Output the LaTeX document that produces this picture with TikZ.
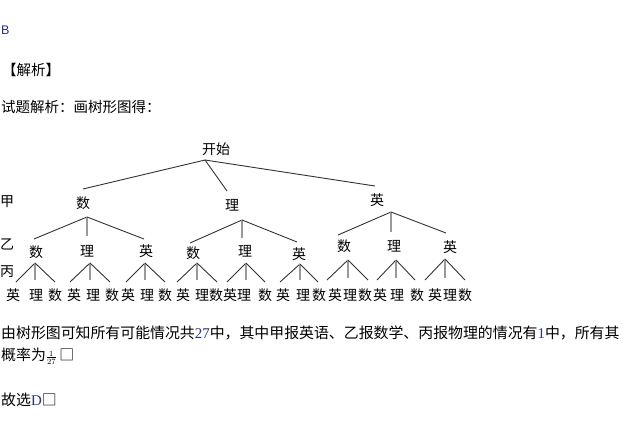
\documentclass[tikz,border=0pt]{standalone}
\usepackage{fontspec}
\setmainfont{Liberation Serif}
\newfontfamily\cjk{Noto Sans CJK SC}
\newfontfamily\latinsans{Liberation Sans}
\definecolor{numblue}{rgb}{0.15,0.2,0.55}
\begin{document}
\begin{tikzpicture}[x=1pt,y=-1pt,
  every node/.style={inner sep=0pt, font=\cjk\fontsize{14}{14}\selectfont},
  para/.style={anchor=west, font=\cjk\fontsize{14.9}{14.9}\selectfont},
  head/.style={anchor=west, font=\cjk\fontsize{14.5}{14.5}\selectfont},
  treeline/.style={draw=black!80, line width=0.9pt},
  midline/.style={draw=black!40, line width=1.5pt}]
\useasboundingbox[fill=white] (0,0) rectangle (630,432);

% header texts
\node[anchor=west, font=\latinsans\fontsize{12.5}{12.5}\selectfont, text=numblue] (hb) at (1,30) {B};
\node[head] (hj) at (2,70) {【解析】};
\node[head] (hs) at (1,107) {试题解析：画树形图得：};

% row labels
\node (rj) at (7,202) {甲};
\node (ry) at (7,244) {乙};
\node (rb) at (7,272) {丙};

% root
\node (root) at (216,149) {开始};
\coordinate (rootA) at (205,160);
\node (n1) at (83,203) {数};
\node (n2) at (232,205) {理};
\node (n3) at (377,200) {英};
\coordinate (n1T) at (83,189);
\coordinate (n2T) at (227,191);
\coordinate (n3T) at (375,186);
\draw[treeline] (rootA) -- (n1T);
\draw[treeline] (rootA) -- (n2T);
\draw[treeline] (rootA) -- (n3T);

% level 1 apexes and level 2 labels
\foreach \p/\ax/\ay/\lx/\ly/\my/\rx/\ry/\ka/\kay/\kb/\kby/\kc/\kcy in
  {1/87/217/34/239/236/144/239/36/252/87/251/146/251,
   2/242/220/190/243/238/297/242/193/253/245/251/299/254,
   3/391/212/338/235/232/446/233/344/246/394/246/450/247}{
  \coordinate (A\p) at (\ax,\ay);
  \coordinate (L\p) at (\lx,\ly);
  \coordinate (M\p) at (\ax,\my);
  \coordinate (R\p) at (\rx,\ry);
  \node (s\p a) at (\ka,\kay) {数};
  \node (s\p b) at (\kb,\kby) {理};
  \node (s\p c) at (\kc,\kcy) {英};
  \draw[treeline] (A\p) -- (L\p);
  \draw[midline] (A\p) -- (M\p);
  \draw[treeline] (A\p) -- (R\p);
}

% level 2 apexes and leaves
\foreach \i/\ax/\ay/\lx/\rx/\ey/\xa/\xb/\xc in
  {1/35/263/16/55/282/13/36/55,
   2/90/263/70/110/282/74/93/112,
   3/145/263/126/165/282/128/147/165,
   4/197/263/177/217/282/183/202/216,
   5/246/263/227/265/282/230/244/265,
   6/300/264/280/318/282/283/303/319,
   7/348/260/327/368/280/335/350/365,
   8/396/260/377/415/280/380/397/417,
   9/445/259/425/465/280/435/450/465}{
  \coordinate (a\i) at (\ax,\ay);
  \coordinate (l\i) at (\lx,\ey);
  \coordinate (m\i) at (\ax,\ey-2);
  \coordinate (r\i) at (\rx,\ey);
  \node (e\i) at (\xa,295) {英};
  \node (p\i) at (\xb,295) {理};
  \node (d\i) at (\xc,295) {数};
  \draw[treeline] (a\i) -- (l\i);
  \draw[midline] (a\i) -- (m\i);
  \draw[treeline] (a\i) -- (r\i);
}

% bottom paragraph
\node[para] (b1) at (1,333) {由树形图可知所有可能情况共{\rmfamily\color{numblue}27}中，其中甲报英语、乙报数学、丙报物理的情况有{\rmfamily\color{numblue}1}中，所有其};
\node[para] (b2) at (1,356) {概率为{\rmfamily\fontsize{11}{11}\selectfont$\frac{1}{27}$}\,□};
\node[para] (b3) at (1,400) {故选{\rmfamily\color{numblue}D}□};
\end{tikzpicture}
\end{document}
